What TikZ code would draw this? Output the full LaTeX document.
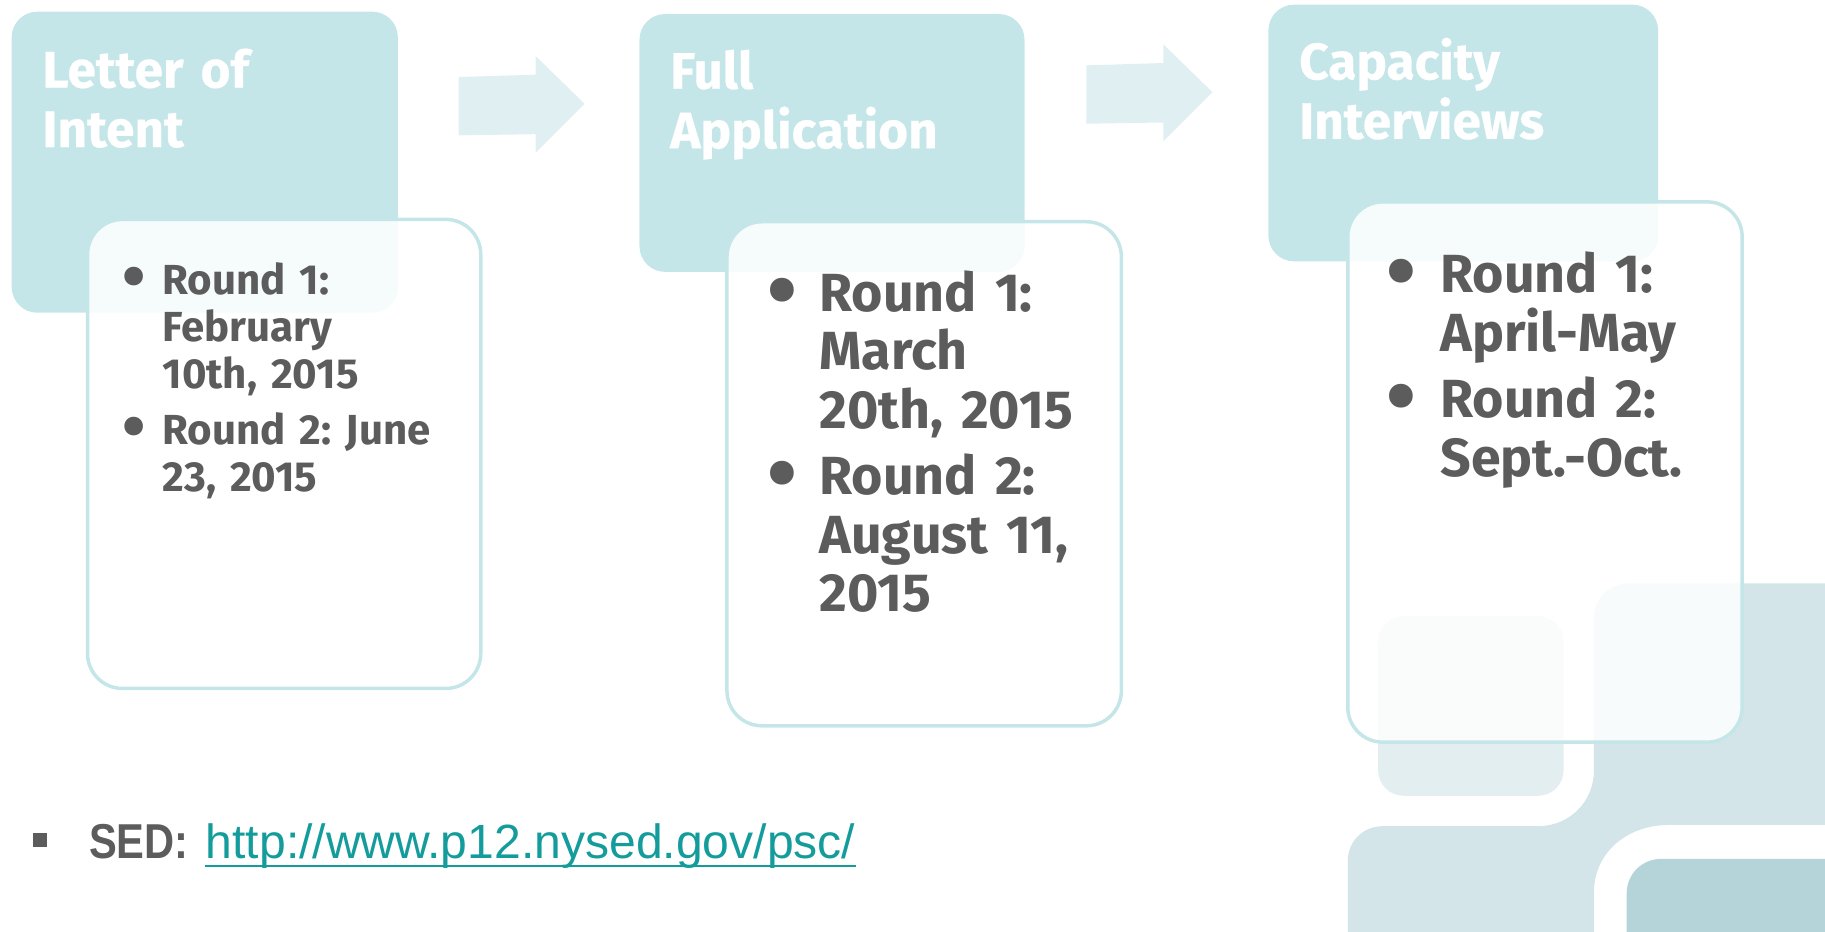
\documentclass[tikz,border=0pt]{standalone}
\usepackage{fontspec}
\setmainfont{Fira Sans}
\newfontfamily\ttlfont{Fira Sans}[FakeBold=0.4]
\newfontfamily\slidefont{Liberation Sans}
\usetikzlibrary{fit}
\definecolor{hdrcol}{RGB}{197,230,232}
\definecolor{arrcol}{RGB}{223,239,242}
\definecolor{txtcol}{RGB}{92,92,92}
\definecolor{linkcol}{RGB}{20,156,156}
\definecolor{decocol}{RGB}{211,229,233}
\definecolor{decodark}{RGB}{181,212,218}
\definecolor{decolight}{RGB}{226,238,240}
\frenchspacing
\newlength{\bulind}
\newcommand{\rnd}[2]{\noindent\hangindent=\bulind\hangafter=1%
	\makebox[\bulind][l]{\raisebox{-0.14em}{\scalebox{1.6}{\textbullet}}}\textbf{#1}#2\par\vspace{3.5pt}}
\newcommand{\blkarrow}[2]{
	\fill[arrow] (#1,#2-25) -- (#1+66,#2-27) -- (#1+66,#2-43) -- (#1+108,#2-2)
	-- (#1+66,#2+40) -- (#1+66,#2+24) -- (#1,#2+25) -- cycle;
	}

\begin{document}
\begin{tikzpicture}[
      x=0.5pt, y=-0.5pt, %one unit is one pixel of the slide, y goes down
      hdr/.style={fill=hdrcol, rounded corners=11pt, inner sep=0pt},
      card/.style={draw=hdrcol, line width=1.5pt, fill=white, fill opacity=0.85, rounded corners=15pt, inner sep=0pt},
      arrow/.style={fill=arrcol},
      title/.style={anchor=base west, inner sep=0pt, text=white, align=left, text width=200pt,
        font=\ttlfont\bfseries\fontsize{22}{25.5}\selectfont},
      items/.style={anchor=base west, inner sep=0pt, text=txtcol, text width=200pt},
      small/.style={items, font=\bfseries\fontsize{18}{20.25}\selectfont},
      big/.style={items, font=\bfseries\fontsize{23}{25}\selectfont}
    ]
    \useasboundingbox (0,0) rectangle (1564,798);
    % Draw the background blocks
    \fill[decocol] (1155,810) -- (1155,738) .. controls (1155,721) and (1168,708) .. (1185,708)
      -- (1318,708) .. controls (1345,708) and (1366,687) .. (1366,660)
      -- (1366,530) .. controls (1366,513) and (1379,500) .. (1396,500)
      -- (1600,500) -- (1600,707) -- (1430,707)
      .. controls (1395,707) and (1366,730) .. (1366,765) -- (1366,810) -- cycle;
    \fill[decodark] (1394,810) -- (1394,766) .. controls (1394,749) and (1407,736) .. (1424,736)
      -- (1600,736) -- (1600,810) -- cycle;
    \fill[decolight, rounded corners=11pt] (1181,528) rectangle (1340,682);
    % Draw the stages
    \node[hdr, fit={(10,10) (341,268)}] (hdrLoi) {};
    \node[hdr, fit={(548,12) (878,233)}] (hdrApp) {};
    \node[hdr, fit={(1087,4) (1421,224)}] (hdrInt) {};
    \blkarrow{393}{91};
    \blkarrow{931}{81};
    \node[card, fit={(75,188) (412,590)}] (cardLoi) {};
    \node[card, fit={(623,190) (961,622)}] (cardApp) {};
    \node[card, fit={(1155,173) (1493,636)}] (cardInt) {};
    % Name the stages
    \node[title] (ttlLoi) at (36,75) {Letter of\\Intent};
    \node[title] (ttlApp) at (574,76) {Full\\Application};
    \node[title] (ttlInt) at (1113,68) {Capacity\\Interviews};
    % Dates of the rounds
    \node[small] (datesLoi) at (105,252) {\setlength{\bulind}{17pt}%
      \rnd{Round 1:}{\newline February\newline 10th, 2015}%
      \rnd{Round 2:}{ June\newline 23, 2015}};
    \node[big] (datesApp) at (657,267) {\setlength{\bulind}{22.5pt}%
      \rnd{Round 1:}{\newline March\newline 20th, 2015}%
      \rnd{Round 2:}{\newline August 11,\newline 2015}};
    \node[big] (datesInt) at (1188,251) {\setlength{\bulind}{23pt}%
      \rnd{Round 1:}{\newline April-May}%
      \rnd{Round 2:}{\newline Sept.-Oct.}};
    % Link
    \node[fill=txtcol, minimum size=6pt, inner sep=0pt] (sq) at (34,720) {};
    \node[anchor=base west, inner sep=0pt, text=txtcol, font=\slidefont\bfseries\fontsize{21}{21}\selectfont]
      (sed) at (76,736) {\scalebox{0.85}[1]{SED:}};
    \node[anchor=base west, inner sep=0pt, text=linkcol, font=\slidefont\fontsize{20.6}{21}\selectfont]
      (url) at (176,736) {http://www.p12.nysed.gov/psc/};
    \draw[linkcol, line width=1.1pt] ([yshift=-3pt]url.base west) -- ([yshift=-3pt]url.base east);
\end{tikzpicture}
\end{document}
